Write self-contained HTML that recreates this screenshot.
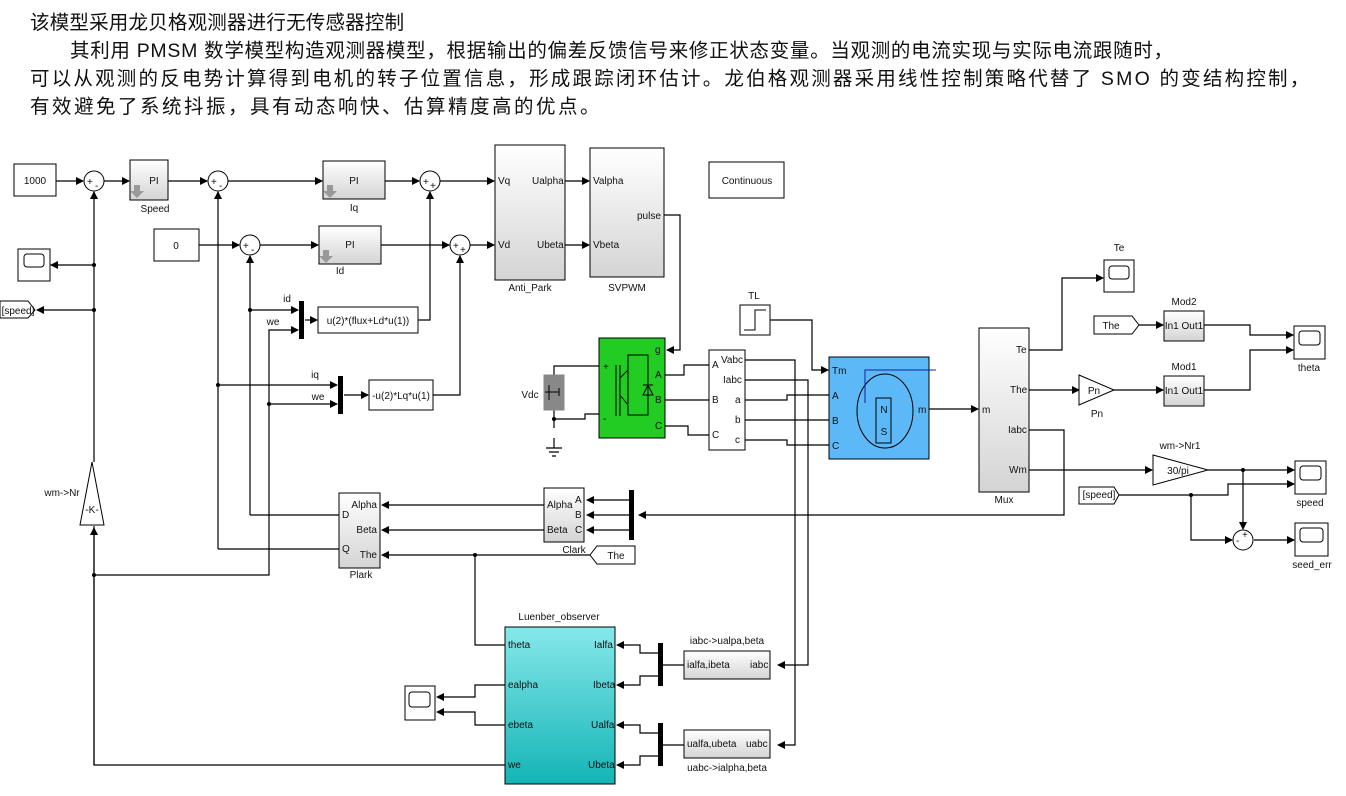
<!DOCTYPE html>
<html><head><meta charset="utf-8"><style>
body{margin:0;background:#fff;width:1346px;height:796px;overflow:hidden;}
.t{position:absolute;font-family:"Liberation Sans","Noto Sans CJK SC",sans-serif;font-size:19.5px;color:#111;white-space:nowrap;}
svg{position:absolute;left:0;top:0;}
svg text{font-family:"Liberation Sans",sans-serif;font-size:10px;fill:#111;}
</style></head><body>
<div class="t" style="left:30px;top:6px;letter-spacing:0.2px">该模型采用龙贝格观测器进行无传感器控制</div>
<div class="t" style="left:70px;top:34px;letter-spacing:0.7px">其利用 PMSM 数学模型构造观测器模型，根据输出的偏差反馈信号来修正状态变量。当观测的电流实现与实际电流跟随时，</div>
<div class="t" style="left:30px;top:62px;letter-spacing:2.2px">可以从观测的反电势计算得到电机的转子位置信息，形成跟踪闭环估计。龙伯格观测器采用线性控制策略代替了 SMO 的变结构控制，</div>
<div class="t" style="left:30px;top:90px;letter-spacing:2.5px">有效避免了系统抖振，具有动态响快、估算精度高的优点。</div>
<svg width="1346" height="796" viewBox="0 0 1346 796">
<defs>
<linearGradient id="g" x1="0" y1="0" x2="0" y2="1"><stop offset="0" stop-color="#fff"/><stop offset="1" stop-color="#d4d4d4"/></linearGradient>
<linearGradient id="c" x1="0" y1="0" x2="0" y2="1"><stop offset="0" stop-color="#86e8ea"/><stop offset="1" stop-color="#14b4b6"/></linearGradient>
<marker id="a" markerWidth="8" markerHeight="8" refX="7" refY="4" orient="auto" markerUnits="userSpaceOnUse"><path d="M0,0L8,4L0,8z" fill="#000"/></marker>
</defs>
<g fill="none" stroke="#000" stroke-width="1.2">
<path d="M56,181H83" marker-end="url(#a)"/>
<path d="M104,181H129" marker-end="url(#a)"/>
<path d="M168,181H207" marker-end="url(#a)"/>
<path d="M228,181H322" marker-end="url(#a)"/>
<path d="M385,181H419" marker-end="url(#a)"/>
<path d="M440,181H494" marker-end="url(#a)"/>
<path d="M199,245H239" marker-end="url(#a)"/>
<path d="M260,245H318" marker-end="url(#a)"/>
<path d="M381,245H449" marker-end="url(#a)"/>
<path d="M470,245H494" marker-end="url(#a)"/>
<path d="M565,181H589" marker-end="url(#a)"/>
<path d="M565,245H589" marker-end="url(#a)"/>
<path d="M664,215H680V350H667" marker-end="url(#a)"/>
<path d="M94,462V192" marker-end="url(#a)"/>
<path d="M94,265H51" marker-end="url(#a)"/>
<path d="M94,310H37" marker-end="url(#a)"/>
<path d="M94,526V765H505"/>
<path d="M94,575H269V330H298" marker-end="url(#a)"/>
<path d="M269,404H337" marker-end="url(#a)"/>
<path d="M218,549V192" marker-end="url(#a)"/>
<path d="M218,549H339"/>
<path d="M218,385H337" marker-end="url(#a)"/>
<path d="M250,515V256" marker-end="url(#a)"/>
<path d="M250,515H339"/>
<path d="M250,310H298" marker-end="url(#a)"/>
<path d="M305,320H317" marker-end="url(#a)"/>
<path d="M344,395H368" marker-end="url(#a)"/>
<path d="M418,320H430V192" marker-end="url(#a)"/>
<path d="M433,395H460V256" marker-end="url(#a)"/>
<path d="M554,375V366H599"/>
<path d="M554,410V428"/>
<path d="M554,419H585V414H599"/>
<path d="M554,438V448M546,448H562M549,452H559M552,456H556"/>
<path d="M665,375H684V365H709"/>
<path d="M665,400H709"/>
<path d="M665,426H688V435H709"/>
<path d="M745,400H787V395H829"/>
<path d="M745,420H829"/>
<path d="M745,440H787V445H829"/>
<path d="M770,320H812V370H828" marker-end="url(#a)"/>
<path d="M745,360H795V745H778" marker-end="url(#a)"/>
<path d="M745,380H808V665H778" marker-end="url(#a)"/>
<path d="M929,409H978" marker-end="url(#a)"/>
<path d="M1029,350H1062V278H1103" marker-end="url(#a)"/>
<path d="M1029,390H1079" marker-end="url(#a)"/>
<path d="M1114,390H1163" marker-end="url(#a)"/>
<path d="M1139,325H1163" marker-end="url(#a)"/>
<path d="M1204,325H1250V335H1293" marker-end="url(#a)"/>
<path d="M1204,390H1250V350H1293" marker-end="url(#a)"/>
<path d="M1029,430H1064V515H639" marker-end="url(#a)"/>
<path d="M1029,470H1152" marker-end="url(#a)"/>
<path d="M1208,470H1294" marker-end="url(#a)"/>
<path d="M1243,470V529" marker-end="url(#a)"/>
<path d="M1119,495H1228V484H1294" marker-end="url(#a)"/>
<path d="M1191,495V540H1232" marker-end="url(#a)"/>
<path d="M1254,540H1294" marker-end="url(#a)"/>
<path d="M629,500H587" marker-end="url(#a)"/>
<path d="M629,530H587" marker-end="url(#a)"/>
<path d="M629,515H587" marker-end="url(#a)"/>
<path d="M544,505H382" marker-end="url(#a)"/>
<path d="M544,530H382" marker-end="url(#a)"/>
<path d="M590,555H382" marker-end="url(#a)"/>
<path d="M475,555V645H505"/>
<path d="M660,665H684"/>
<path d="M658,653H640V645H617" marker-end="url(#a)"/>
<path d="M658,676H640V685H617" marker-end="url(#a)"/>
<path d="M660,745H684"/>
<path d="M658,733H640V725H617" marker-end="url(#a)"/>
<path d="M658,756H640V765H617" marker-end="url(#a)"/>
<path d="M505,685H475V697H437" marker-end="url(#a)"/>
<path d="M505,725H475V712H437" marker-end="url(#a)"/>
<path d="M94,765V528" marker-end="url(#a)"/>
</g>
<g fill="#000">
<circle cx="94" cy="265" r="2"/><circle cx="94" cy="310" r="2"/><circle cx="94" cy="575" r="2"/>
<circle cx="218" cy="385" r="2"/><circle cx="250" cy="310" r="2"/><circle cx="269" cy="404" r="2"/>
<circle cx="475" cy="555" r="2"/><circle cx="554" cy="419" r="2"/>
<circle cx="1243" cy="470" r="2"/><circle cx="1191" cy="495" r="2"/>
</g>
<g stroke="#000" stroke-width="1" fill="#fff">
<rect x="14" y="164" width="42" height="32"/>
<rect x="154" y="229" width="45" height="32"/>
<rect x="130" y="160" width="38" height="40" fill="url(#g)"/>
<rect x="323" y="161" width="62" height="38" fill="url(#g)"/>
<rect x="319" y="226" width="62" height="38" fill="url(#g)"/>
<circle cx="94" cy="181" r="10"/><circle cx="218" cy="181" r="10"/><circle cx="250" cy="245" r="10"/>
<circle cx="430" cy="181" r="10"/><circle cx="460" cy="245" r="10"/><circle cx="1243" cy="540" r="10"/>
<rect x="495" y="145" width="70" height="135" fill="url(#g)"/>
<rect x="590" y="148" width="74" height="129" fill="url(#g)"/>
<rect x="709" y="162" width="75" height="36"/>
<rect x="318" y="307" width="100" height="26"/>
<rect x="369" y="380" width="64" height="30"/>
<rect x="18" y="249" width="32" height="32"/>
<rect x="24" y="254" width="20" height="13" rx="3"/>
<path d="M0,301H28L35,310L28,318H0z"/>
<rect x="599" y="338" width="66" height="100" fill="#22cc22"/>
<rect x="544" y="375" width="20" height="35" fill="#888" stroke="#888"/>
<rect x="709" y="350" width="36" height="100"/>
<rect x="740" y="305" width="30" height="30"/>
<rect x="829" y="357" width="100" height="102" fill="#5cb8f6"/>
<ellipse cx="885" cy="411" rx="28" ry="37" fill="#5cb8f6"/>
<rect x="876" y="398" width="15" height="45" fill="#5cb8f6"/>
<rect x="979" y="328" width="50" height="164" fill="url(#g)"/>
<rect x="1104" y="260" width="30" height="32"/><rect x="1109" y="266" width="20" height="13" rx="3"/>
<path d="M1094,316H1132L1139,325L1132,334H1094z"/>
<rect x="1164" y="311" width="40" height="30" fill="url(#g)"/>
<rect x="1164" y="376" width="40" height="30" fill="url(#g)"/>
<path d="M1079,375L1114,390L1079,405z"/>
<rect x="1294" y="326" width="31" height="33"/><rect x="1299" y="331" width="21" height="14" rx="3"/>
<path d="M1153,455L1208,470L1153,485z"/>
<rect x="1295" y="461" width="31" height="33"/><rect x="1300" y="466" width="21" height="14" rx="3"/>
<path d="M1079,487H1114L1119,495L1114,504H1079z"/>
<rect x="1295" y="523" width="33" height="33"/><rect x="1300" y="528" width="23" height="14" rx="3"/>
<rect x="544" y="488" width="40" height="54" fill="url(#g)"/>
<rect x="339" y="493" width="41" height="75" fill="url(#g)"/>
<path d="M590,555L597,546H635V564H597z"/>
<rect x="505" y="627" width="110" height="157" fill="url(#c)"/>
<rect x="405" y="686" width="30" height="34"/><rect x="409" y="692" width="21" height="15" rx="3"/>
<rect x="684" y="651" width="86" height="28" fill="url(#g)"/>
<rect x="684" y="730" width="86" height="28" fill="url(#g)"/>
<path d="M92,462L104,525H80z"/>
</g>
<g fill="#000">
<rect x="299" y="301" width="5" height="38"/><rect x="338" y="376" width="5" height="38"/>
<rect x="629" y="490" width="5" height="50"/><rect x="658" y="643" width="5" height="43"/><rect x="658" y="723" width="5" height="43"/>
</g>
<g fill="none" stroke="#000" stroke-width="1">
<path d="M616,365V416M620,365V416M620,378L628,370V355H648V395M628,370V404M620,395L628,405V415H648V395M643,395L648,385L653,395zM643,385H653"/>
<path d="M744,330H755V310H766"/>
<path d="M549,385V400M545,392H559M559,388V396"/>
<path d="M936,370H865V403" stroke="#1020a0"/>
</g>
<g fill="#999"><path d="M134,185h6v6h4l-7,7l-7,-7h4z"/><path d="M327,185h6v6h4l-7,7l-7,-7h4z"/><path d="M323,250h6v6h4l-7,7l-7,-7h4z"/></g>
<g text-anchor="middle">
<text x="35" y="184">1000</text><text x="176" y="249">0</text>
<text x="154" y="184" font-size="11">PI</text><text x="354" y="184" font-size="11">PI</text><text x="350" y="248" font-size="11">PI</text>
<text x="155" y="212">Speed</text><text x="354" y="211">Iq</text><text x="340" y="274">Id</text>
<text x="530" y="291">Anti_Park</text><text x="627" y="291" font-size="11">SVPWM</text>
<text x="747" y="184" fill="#1a1aa0" font-size="11">Continuous</text>
<text x="368" y="324">u(2)*(flux+Ld*u(1))</text><text x="401" y="399">-u(2)*Lq*u(1)</text>
<text x="18" y="314">[speed]</text>
<text x="754" y="299">TL</text><text x="530" y="398" font-size="13">Vdc</text>
<text x="1119" y="251">Te</text><text x="1184" y="305">Mod2</text><text x="1184" y="370">Mod1</text>
<text x="1184" y="329">In1 Out1</text><text x="1184" y="394">In1 Out1</text>
<text x="1111" y="329" font-size="11">The</text><text x="1094" y="394">Pn</text><text x="1097" y="417">Pn</text>
<text x="1309" y="371">theta</text><text x="1180" y="449">wm-&gt;Nr1</text><text x="1178" y="474">30/pi</text>
<text x="1310" y="506">speed</text><text x="1312" y="568">seed_err</text><text x="1099" y="498">[speed]</text>
<text x="1004" y="503">Mux</text><text x="574" y="553">Clark</text><text x="616" y="559">The</text>
<text x="361" y="578">Plark</text><text x="559" y="620">Luenber_observer</text>
<text x="727" y="644">iabc-&gt;ualpa,beta</text><text x="727" y="771">uabc-&gt;ialpha,beta</text>
<text x="62" y="496">wm-&gt;Nr</text><text x="92" y="513">-K-</text>
<text x="287" y="302">id</text><text x="273" y="325">we</text><text x="315" y="378">iq</text><text x="318" y="400">we</text>
<text x="884" y="413" font-size="11">N</text><text x="884" y="435" font-size="11">S</text>
</g>
<g text-anchor="end" font-size="9">
<text x="377" y="508" font-size="9">Alpha</text><text x="377" y="533" font-size="9">Beta</text><text x="377" y="558" font-size="9">The</text>
</g>
<g>
<text x="498" y="184">Vq</text><text x="498" y="248">Vd</text>
<text x="532" y="184">Ualpha</text><text x="537" y="248">Ubeta</text>
<text x="593" y="184">Valpha</text><text x="593" y="248">Vbeta</text><text x="637" y="219">pulse</text>
<text x="603" y="370" font-size="9">+</text><text x="603" y="422" font-size="9">-</text>
<text x="655" y="353" fill="#006" font-size="9">g</text><text x="655" y="378" font-size="9">A</text><text x="655" y="403" font-size="9">B</text><text x="655" y="429" font-size="9">C</text>
<text x="712" y="368" font-size="9">A</text><text x="712" y="403" font-size="9">B</text><text x="712" y="438" font-size="9">C</text>
<text x="721" y="363" font-size="9">Vabc</text><text x="723" y="383" font-size="9">Iabc</text><text x="735" y="403" font-size="9">a</text><text x="735" y="423" font-size="9">b</text><text x="735" y="443" font-size="9">c</text>
<text x="832" y="374" fill="#1020a0" font-size="11">Tm</text><text x="832" y="399" fill="#1020a0">A</text><text x="832" y="424" fill="#1020a0">B</text><text x="832" y="449" fill="#1020a0">C</text><text x="918" y="413" font-size="9">m</text>
<text x="982" y="413" font-size="9">m</text><text x="1016" y="353">Te</text><text x="1010" y="393">The</text><text x="1008" y="433">Iabc</text><text x="1009" y="473">Wm</text>
<text x="547" y="508" font-size="9">Alpha</text><text x="547" y="533" font-size="9">Beta</text><text x="575" y="503" font-size="9">A</text><text x="575" y="518" font-size="9">B</text><text x="575" y="533" font-size="9">C</text>
<text x="342" y="518" font-size="9">D</text><text x="342" y="552" font-size="9">Q</text>
<text x="508" y="648" font-size="9">theta</text><text x="508" y="688" font-size="9">ealpha</text><text x="508" y="728" font-size="9">ebeta</text><text x="508" y="768" font-size="9">we</text>
<text x="594" y="648" font-size="9">Ialfa</text><text x="593" y="688" font-size="9">Ibeta</text><text x="591" y="728" font-size="9">Ualfa</text><text x="588" y="768" font-size="9">Ubeta</text>
<text x="687" y="668" font-size="9">ialfa,ibeta</text><text x="750" y="668" font-size="9">iabc</text>
<text x="687" y="747" font-size="9">ualfa,ubeta</text><text x="746" y="747" font-size="9">uabc</text>
<text x="87" y="185" font-size="8">+</text><text x="95" y="189" font-size="8">-</text>
<text x="211" y="185" font-size="8">+</text><text x="219" y="189" font-size="8">-</text>
<text x="243" y="249" font-size="8">+</text><text x="251" y="253" font-size="8">-</text>
<text x="423" y="185" font-size="8">+</text><text x="430" y="189" font-size="8">+</text>
<text x="453" y="249" font-size="8">+</text><text x="460" y="253" font-size="8">+</text>
<text x="1236" y="544" font-size="8">-</text><text x="1242" y="538" font-size="8">+</text>
</g>
</svg>
</body></html>
